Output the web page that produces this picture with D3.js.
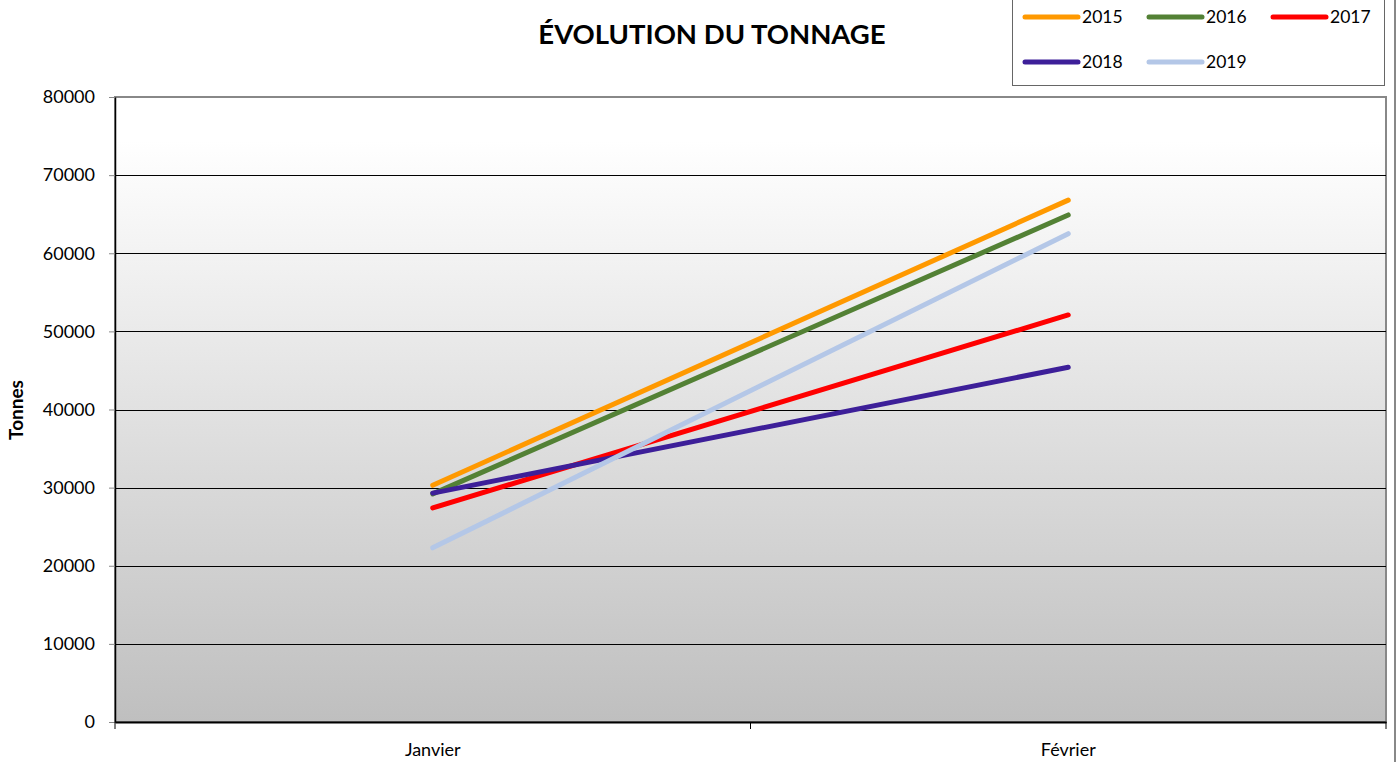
<!DOCTYPE html>
<html>
<head>
<meta charset="utf-8">
<script src="https://cdn.jsdelivr.net/npm/d3@7"></script>
<style>
  body { margin: 0; background: #fff; }
  svg { display: block; font-family: Lato, "Open Sans", sans-serif; }
</style>
</head>
<body>
<div class="container"></div>
<script>
var months = ["Janvier", "Février"];
var years = ["2015", "2016", "2017", "2018", "2019"];
var colors = ["#ff9900", "#538135", "#ff0000", "#3d1f99", "#b4c7e7"];
var v2015 = [30300, 66800];
var v2016 = [29200, 64900];
var v2017 = [27400, 52100];
var v2018 = [29300, 45400];
var v2019 = [22300, 62500];
var yTicks = [0, 10000, 20000, 30000, 40000, 50000, 60000, 70000, 80000];

var series = [v2015, v2016, v2017, v2018, v2019];

var width = 1397, height = 762;
var plotLeft = 115, plotRight = 1386, plotTop = 97, plotBottom = 722;

var svg = d3.select('.container')
    .append('svg')
    .attr('width', width)
    .attr('height', height)

// gradient for plot area
var grad = svg.append('defs').append('linearGradient')
    .attr('id', 'bg').attr('x1', 0).attr('y1', 0).attr('x2', 0).attr('y2', 1)
grad.append('stop').attr('offset', '0%').attr('stop-color', '#ffffff')
grad.append('stop').attr('offset', '7%').attr('stop-color', '#ffffff')
grad.append('stop').attr('offset', '100%').attr('stop-color', '#bfbfbf')

var x = d3.scaleBand().domain(months).range([plotLeft, plotRight])
var y = d3.scaleLinear().domain([0, 80000]).range([plotBottom, plotTop])

// outer border on the right
svg.append('line')
    .attr('x1', 1395).attr('x2', 1395).attr('y1', 0).attr('y2', height)
    .attr('stroke', '#888').attr('stroke-width', 2)

svg.append('rect')
    .attr('x', plotLeft).attr('y', plotTop)
    .attr('width', plotRight - plotLeft).attr('height', plotBottom - plotTop)
    .attr('fill', 'url(#bg)')
    .attr('stroke', '#888').attr('stroke-width', 2)

// gridlines
svg.append('g')
    .selectAll('line')
    .data(yTicks.filter(function (d) { return d > 0 && d < 80000 }))
    .enter().append('line')
    .attr('x1', plotLeft).attr('x2', plotRight)
    .attr('y1', function (d) { return Math.round(y(d)) + 0.5 })
    .attr('y2', function (d) { return Math.round(y(d)) + 0.5 })
    .attr('stroke', '#000').attr('stroke-width', 1)

// y axis
var yAxis = svg.append('g')
    .attr('transform', 'translate(' + plotLeft + ',0)')
    .call(d3.axisLeft(y).tickValues(yTicks).tickSize(6).tickSizeOuter(0).tickPadding(14).tickFormat(d3.format('d')))
yAxis.selectAll('text').attr('font-size', '18px').attr('fill', '#000')
    .style('font-family', 'Lato, "Open Sans", sans-serif')
yAxis.selectAll('line').attr('stroke', '#888')
yAxis.select('.domain').attr('stroke', '#000').attr('stroke-width', 1.5)

// x axis
var xAxis = svg.append('g')
    .attr('transform', 'translate(0,' + plotBottom + ')')
    .call(d3.axisBottom(x).tickSize(0).tickPadding(21))
xAxis.select('.domain').attr('stroke', '#000').attr('stroke-width', 2)
xAxis.selectAll('text').attr('font-size', '18px').attr('fill', '#000')
    .style('font-family', 'Lato, "Open Sans", sans-serif')
svg.append('g')
    .selectAll('line')
    .data([plotLeft, plotLeft + x.step(), plotLeft + 2 * x.step()])
    .enter().append('line')
    .attr('x1', function (d) { return d }).attr('x2', function (d) { return d })
    .attr('y1', plotBottom).attr('y2', plotBottom + 7)
    .attr('stroke', '#000').attr('stroke-width', 1)

// lines
var line = d3.line()
    .x(function (d, i) { return x(months[i]) + x.bandwidth() / 2 })
    .y(function (d) { return y(d) })

svg.append('g')
    .selectAll('path')
    .data(series)
    .enter().append('path')
    .attr('d', line)
    .attr('fill', 'none')
    .attr('stroke', function (d, i) { return colors[i] })
    .attr('stroke-width', 5)
    .attr('stroke-linecap', 'round')

// title
svg.append('text')
    .attr('x', 712).attr('y', 44)
    .attr('text-anchor', 'middle')
    .attr('font-size', '27.5px').attr('font-weight', 'bold')
    .text('ÉVOLUTION DU TONNAGE')

// y label
svg.append('text')
    .attr('transform', 'translate(23,410) rotate(-90)')
    .attr('text-anchor', 'middle')
    .attr('font-size', '19px').attr('font-weight', 'bold')
    .text('Tonnes')

// legend
svg.append('rect')
    .attr('x', 1012.5).attr('y', -2).attr('width', 372).attr('height', 87.5)
    .attr('fill', '#fff').attr('stroke', '#666').attr('stroke-width', 1)

var legend = svg.append('g')
    .selectAll('g')
    .data(years)
    .enter().append('g')
    .attr('transform', function (d, i) {
        return 'translate(' + (1025 + (i % 3) * 124) + ',' + (17 + Math.floor(i / 3) * 45) + ')'
    })
legend.append('line')
    .attr('x1', 0).attr('x2', 53)
    .attr('stroke', function (d, i) { return colors[i] })
    .attr('stroke-width', 5).attr('stroke-linecap', 'round')
legend.append('text')
    .attr('x', 57).attr('y', 6)
    .attr('font-size', '17.5px')
    .text(function (d) { return d })
</script>
</body>
</html>
